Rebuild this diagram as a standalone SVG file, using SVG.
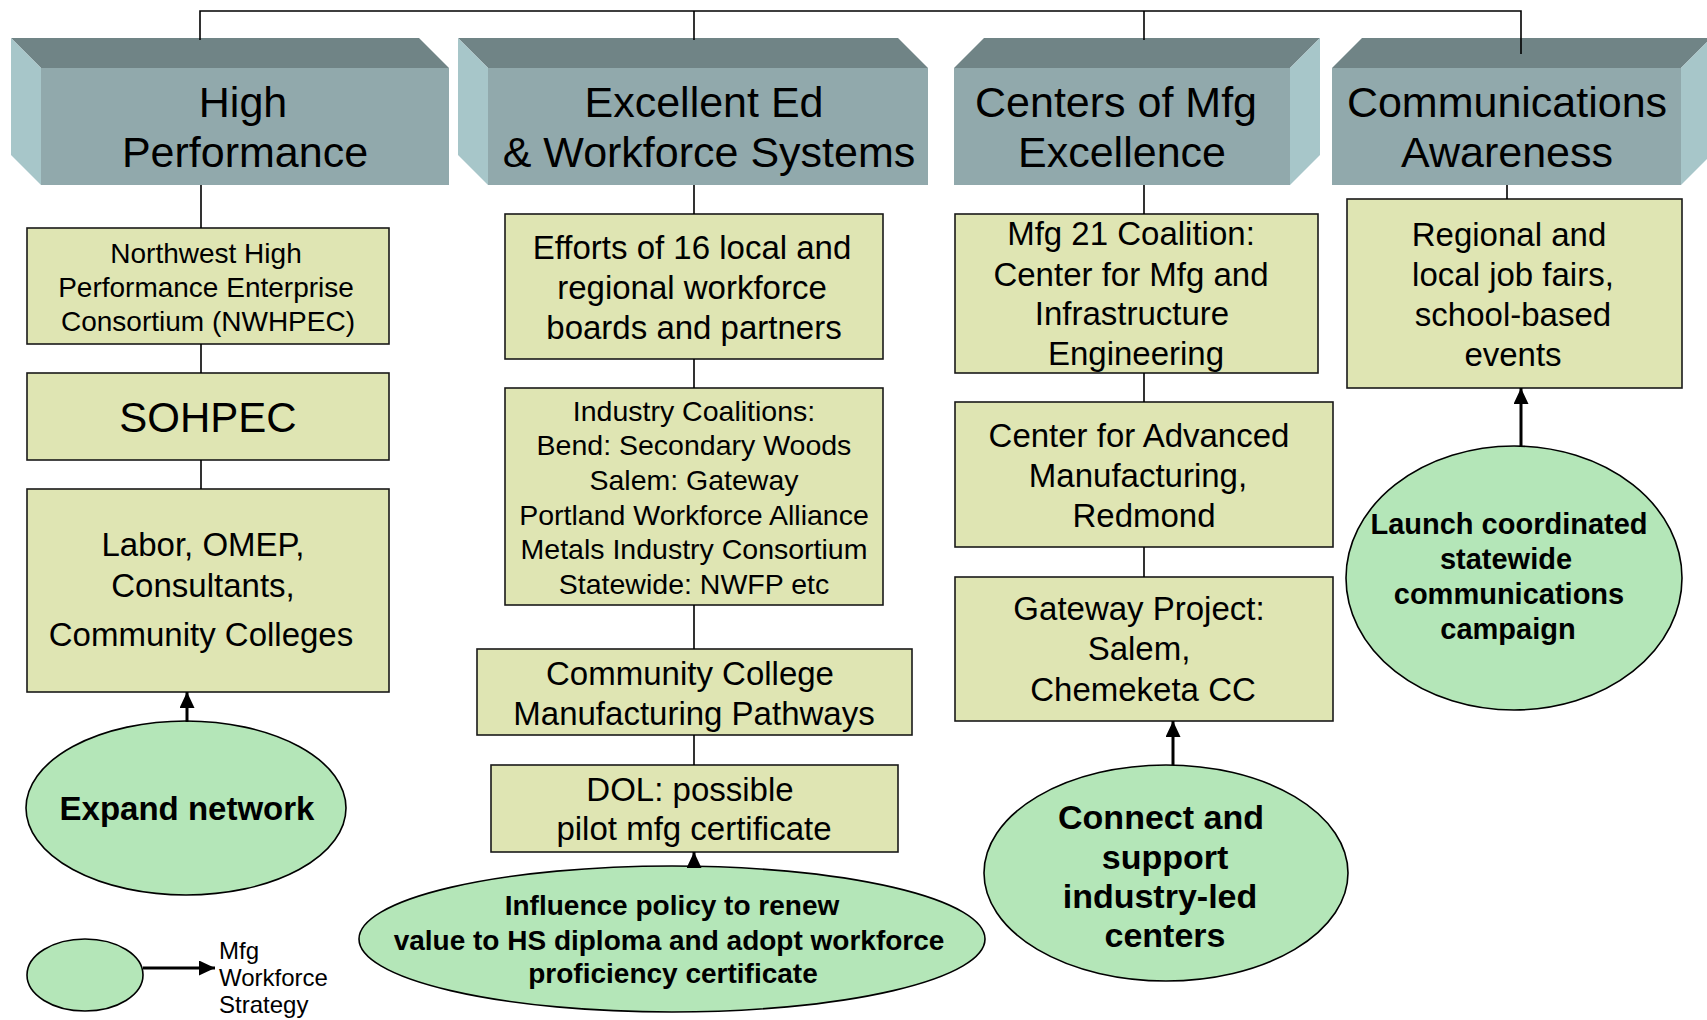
<svg xmlns="http://www.w3.org/2000/svg" width="1707" height="1020" viewBox="0 0 1707 1020">
  <style>
    text { font-family: "Liberation Sans", Arial, sans-serif; fill: #000; text-anchor: middle; }
    .hdr { font-size: 43px; }
    .top { fill: #708486; }
    .front { fill: #91A9AC; }
    .side { fill: #A7C6C9; }
    .box { fill: #DFE5B3; stroke: #1a1a1a; stroke-width: 1.6; }
    .oval { fill: #B4E6B8; stroke: #000; stroke-width: 1.6; }
    .b33 { font-size: 33px; }
    .bold { font-weight: bold; }
    .link { stroke: #000; stroke-width: 1.6; fill: none; }
    .arrow { stroke: #000; stroke-width: 3; fill: none; marker-end: url(#head); }
  </style>
  <defs>
    <marker id="head" viewBox="0 0 16 15" refX="16" refY="7.5" markerWidth="16" markerHeight="15" markerUnits="userSpaceOnUse" orient="auto">
      <path d="M0,0 L16,7.5 L0,15 z" fill="#000"/>
    </marker>
  </defs>
  <rect width="1707" height="1020" fill="#fff"/>

  <!-- Pillar headers (3D blocks) -->
  <g id="hdr-high-performance">
    <polygon class="top" points="41,68 449,68 419,38 11,38"/>
    <polygon class="side" points="41,68 11,38 11,155 41,185"/>
    <rect class="front" x="41" y="68" width="408" height="117"/>
    <text class="hdr" x="243" y="117">High</text>
    <text class="hdr" x="245" y="167">Performance</text>
  </g>
  <g id="hdr-excellent-ed">
    <polygon class="top" points="488,68 928,68 898,38 458,38"/>
    <polygon class="side" points="488,68 458,38 458,155 488,185"/>
    <rect class="front" x="488" y="68" width="440" height="117"/>
    <text class="hdr" x="704" y="117">Excellent Ed</text>
    <text class="hdr" x="709" y="167">&amp; Workforce Systems</text>
  </g>
  <g id="hdr-centers">
    <polygon class="top" points="954,68 1290,68 1320,38 984,38"/>
    <polygon class="side" points="1290,68 1320,38 1320,155 1290,185"/>
    <rect class="front" x="954" y="68" width="336" height="117"/>
    <text class="hdr" x="1116" y="117">Centers of Mfg</text>
    <text class="hdr" x="1122" y="167">Excellence</text>
  </g>
  <g id="hdr-communications">
    <polygon class="top" points="1332,68 1681,68 1711,38 1362,38"/>
    <polygon class="side" points="1681,68 1711,38 1711,155 1681,185"/>
    <rect class="front" x="1332" y="68" width="349" height="117"/>
    <text class="hdr" x="1507" y="117">Communications</text>
    <text class="hdr" x="1507" y="167">Awareness</text>
  </g>

  <!-- Column 1 -->
  <g id="nwhpec">
    <rect class="box" x="27" y="228" width="362" height="116"/>
    <text x="206" y="263" font-size="28">Northwest High</text>
    <text x="206" y="297" font-size="28">Performance Enterprise</text>
    <text x="208" y="331" font-size="28">Consortium (NWHPEC)</text>
  </g>
  <g id="sohpec">
    <rect class="box" x="27" y="373" width="362" height="87"/>
    <text x="208" y="432" font-size="42">SOHPEC</text>
  </g>
  <g id="labor">
    <rect class="box" x="27" y="489" width="362" height="203"/>
    <text class="b33" x="203" y="556">Labor, OMEP,</text>
    <text class="b33" x="203" y="597">Consultants,</text>
    <text class="b33" x="201" y="646">Community Colleges</text>
  </g>
  <g id="expand-network">
    <ellipse class="oval" cx="186" cy="808" rx="160" ry="87"/>
    <text class="b33 bold" x="187" y="820">Expand network</text>
  </g>

  <!-- Column 2 -->
  <g id="efforts">
    <rect class="box" x="505" y="214" width="378" height="145"/>
    <text class="b33" x="692" y="259">Efforts of 16 local and</text>
    <text class="b33" x="692" y="299">regional workforce</text>
    <text class="b33" x="694" y="339">boards and partners</text>
  </g>
  <g id="industry-coalitions">
    <rect class="box" x="505" y="388" width="378" height="217"/>
    <text x="694" y="421" font-size="28.5">Industry Coalitions:</text>
    <text x="694" y="455" font-size="28.5">Bend: Secondary Woods</text>
    <text x="694" y="490" font-size="28.5">Salem: Gateway</text>
    <text x="694" y="525" font-size="28.5">Portland Workforce Alliance</text>
    <text x="694" y="559" font-size="28.5">Metals Industry Consortium</text>
    <text x="694" y="594" font-size="28.5">Statewide: NWFP etc</text>
  </g>
  <g id="cc-pathways">
    <rect class="box" x="477" y="649" width="435" height="86"/>
    <text class="b33" x="690" y="685">Community College</text>
    <text class="b33" x="694" y="725">Manufacturing Pathways</text>
  </g>
  <g id="dol">
    <rect class="box" x="491" y="765" width="407" height="87"/>
    <text class="b33" x="690" y="801">DOL: possible</text>
    <text class="b33" x="694" y="840">pilot mfg certificate</text>
  </g>
  <g id="influence-policy">
    <ellipse class="oval" cx="672" cy="939" rx="313" ry="73"/>
    <text class="bold" x="672" y="915" font-size="28">Influence policy to renew</text>
    <text class="bold" x="669" y="950" font-size="28">value to HS diploma and adopt workforce</text>
    <text class="bold" x="673" y="983" font-size="28">proficiency certificate</text>
  </g>

  <!-- Column 3 -->
  <g id="mfg21">
    <rect class="box" x="955" y="214" width="363" height="159"/>
    <text class="b33" x="1131" y="245">Mfg 21 Coalition:</text>
    <text class="b33" x="1131" y="286">Center for Mfg and</text>
    <text class="b33" x="1132" y="325">Infrastructure</text>
    <text class="b33" x="1136" y="365">Engineering</text>
  </g>
  <g id="cam-redmond">
    <rect class="box" x="955" y="402" width="378" height="145"/>
    <text class="b33" x="1139" y="447">Center for Advanced</text>
    <text class="b33" x="1138" y="487">Manufacturing,</text>
    <text class="b33" x="1144" y="527">Redmond</text>
  </g>
  <g id="gateway">
    <rect class="box" x="955" y="577" width="378" height="144"/>
    <text class="b33" x="1139" y="620">Gateway Project:</text>
    <text class="b33" x="1139" y="660">Salem,</text>
    <text class="b33" x="1143" y="701">Chemeketa CC</text>
  </g>
  <g id="connect-support">
    <ellipse class="oval" cx="1166" cy="873" rx="182" ry="108"/>
    <text class="bold" x="1161" y="829" font-size="34">Connect and</text>
    <text class="bold" x="1165" y="869" font-size="34">support</text>
    <text class="bold" x="1160" y="908" font-size="34">industry-led</text>
    <text class="bold" x="1165" y="947" font-size="34">centers</text>
  </g>

  <!-- Column 4 -->
  <g id="job-fairs">
    <rect class="box" x="1347" y="199" width="335" height="189"/>
    <text class="b33" x="1509" y="246">Regional and</text>
    <text class="b33" x="1513" y="286">local job fairs,</text>
    <text class="b33" x="1513" y="326">school-based</text>
    <text class="b33" x="1513" y="366">events</text>
  </g>
  <g id="launch-campaign">
    <ellipse class="oval" cx="1514" cy="578" rx="168" ry="132"/>
    <text class="bold" x="1509" y="534" font-size="29">Launch coordinated</text>
    <text class="bold" x="1506" y="569" font-size="29">statewide</text>
    <text class="bold" x="1509" y="604" font-size="29">communications</text>
    <text class="bold" x="1508" y="639" font-size="29">campaign</text>
  </g>

  <!-- Legend -->
  <g id="legend">
    <ellipse class="oval" cx="85" cy="975" rx="58" ry="36"/>
    <text x="219" y="959" font-size="24" style="text-anchor:start">Mfg</text>
    <text x="219" y="986" font-size="24" style="text-anchor:start">Workforce</text>
    <text x="219" y="1013" font-size="24" style="text-anchor:start">Strategy</text>
  </g>

  <!-- Connectors -->
  <g id="connectors">
    <path class="link" d="M200,40 V11 H1521 V54"/>
    <path class="link" d="M694,11 V40"/>
    <path class="link" d="M1144,11 V40"/>

    <path class="link" d="M201,185 V228 M201,344 V373 M201,460 V489"/>
    <path class="link" d="M694,185 V214 M694,359 V388 M694,605 V649 M694,735 V765"/>
    <path class="link" d="M1144,185 V214 M1144,373 V402 M1144,547 V577"/>
    <path class="link" d="M1507,185 V199"/>

    <line class="arrow" x1="187" y1="722" x2="187" y2="692"/>
    <line class="arrow" x1="694" y1="867" x2="694" y2="852"/>
    <line class="arrow" x1="1173" y1="765" x2="1173" y2="721"/>
    <line class="arrow" x1="1521" y1="446" x2="1521" y2="388"/>
    <line class="arrow" x1="143" y1="968" x2="215" y2="968"/>
  </g>
</svg>
